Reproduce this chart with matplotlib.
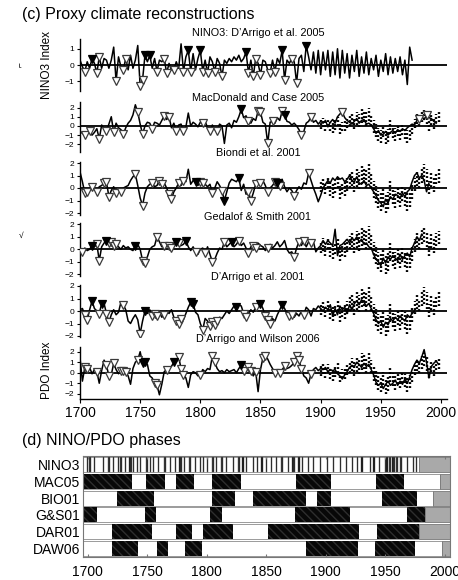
import matplotlib.pyplot as plt
import numpy as np

plt.rcParams['font.family'] = ['Liberation Sans', 'DejaVu Sans']
plt.rcParams['hatch.linewidth'] = 1.0

# ---- proxy series, every 2nd year from 1700 ----
nino3_vals = [0.3, -0.1, -0.4, 0.2, -0.2, 0.4, 0.1, -0.5, 0.5, -0.2,
              0.4, 0.3, -0.2, 0.3, 1.1, -1.0, 0.5, -0.1, -0.3, 0.4,
              -0.3, 0.6, -0.2, 0.3, 1.2, -1.3, -0.9, 0.6, 0.2, 0.6,
              -0.2, 0.4, -0.4, 0.3, 0.2, 0.4, -0.5, 0.1, -0.3, -0.3,
              0.2, -0.2, 1.3, -0.4, 0.5, 0.9, -0.4, 0.7, -0.3, 0.4,
              0.9, -0.4, 0.3, -0.5, 0.5, 0.2, -0.4, 0.4, 0.1, -0.7,
              0.3, 0.1, 0.4, 0.2, 0.5, 0.3, 0.6, 0.2, 0.4, 0.8,
              -0.5, 0.3, -0.7, 0.4, 0.1, -0.6, 0.3, 0.2, -0.3, -0.5,
              0.3, -0.4, 0.4, 0.1, 0.9, -0.9, 0.3, 0.1, 0.4, 0.2,
              -1.1, 0.4, 0.6, -0.4, 1.2, 0.5, -0.3, 0.8, -0.5, 0.9,
              -0.6, 0.8, -0.3, 0.9, -0.7, 0.8, -0.6, 1.0, -0.8, 0.9,
              -0.5, 0.7, -0.8, 0.6, -0.4, 0.9, -0.7, 0.5, -0.5, 0.8,
              -0.6, 0.4, -0.3, 0.6, -0.7, 0.3, -0.4, 0.7, -0.6, 0.5,
              -0.5, 0.4, -0.4, 0.5, -0.6, 0.3, -1.2, 1.1, 0.3]
mac05_vals = [-0.6, -0.8, -1.0, -0.9, -0.5, -1.0, -0.7, -0.3, -1.4, 0.1,
              -0.3, -0.5, 0.2, 1.0, -0.7, 0.3, -0.2, -0.4, -0.9, -0.2,
              0.3, 0.6, 1.2, 2.3, 1.5, 0.2, -0.9, 0.0, 0.4, 0.3,
              -0.3, 0.4, 0.3, 0.1, 0.6, 1.1, 0.7, 1.0, -0.2, 0.3,
              -0.5, 0.1, 0.2, -0.6, -0.1, 1.4, 0.0, 0.4, 0.2, -0.1,
              0.4, 0.3, 0.5, -0.2, -0.5, 0.1, -0.4, -0.5, 0.2, 0.0,
              -1.9, 0.1, 0.3, -0.2, 0.6, 0.4, 1.0, 1.8, 0.9, 1.1,
              0.5, 0.3, 0.8, 0.6, 1.6, 1.5, 0.4, 0.2, -1.9, 0.4,
              0.5, 0.3, 0.9, 0.6, 1.6, 1.2, 0.5, 0.4, 0.1, 0.3,
              0.0, -0.4, -1.0, -0.6, 0.3, 0.5, 1.0, 0.4, 0.6, 0.2,
              0.5, 0.3, 0.6, -0.1, 0.4, 0.7, 0.3, 1.0, 1.3, 1.5,
              0.9, 0.6, 0.4, 0.2, 0.5, 0.8, 0.3, 0.6, 0.7, 0.2,
              0.3, 0.1, -0.3, -0.8, -0.5, -1.0, -0.9, -0.6, -1.0, -0.7,
              -0.5, -0.8, -0.4, -0.6, -0.3, -0.5, -0.2, 0.0, 0.2, 0.1,
              0.6, 0.8, 1.0, 0.7, 1.2, 0.9, 0.8, 0.5, 0.3]
bio01_vals = [1.3, 0.5, -0.4, -0.3, 0.0, 0.1, -0.1, -0.3, 0.1, 0.2,
              0.4, 0.5, -0.7, -0.2, 0.1, -0.4, -0.2, -0.3, 0.0, 0.1,
              0.2, 0.6, 0.9, 1.1, 0.2, -0.8, -1.4, -0.4, 0.1, 0.3,
              0.4, 0.1, 0.2, 0.6, 0.3, 0.4, 0.0, -0.5, -0.9, -0.3,
              0.0, 0.4, 0.2, 0.6, 0.5, 1.5, 0.3, 0.6, 0.5, 0.2,
              0.5, 0.4, 0.3, 0.1, 0.3, -0.4, 0.0, 0.5, 0.2, -0.2,
              -1.0, -0.3, 0.4, 0.7, 0.6, 0.5, 0.8, -0.2, 0.3, -0.5,
              -0.3, -1.0, -0.4, 0.3, 0.5, 0.4, 0.6, 0.2, -0.3, 0.0,
              0.2, 0.5, 0.4, 0.2, 0.7, 0.1, -0.3, 0.0, -0.2, -0.6,
              -0.2, 0.1, -0.1, 0.4, 0.3, 1.2, 0.6, 0.0, -0.5, -1.1,
              -0.6, 0.0, 0.3, 0.6, 0.4, 0.8, 0.6, 0.9, 0.7, 0.8,
              0.5, 0.7, 1.0, 0.6, 0.5, 0.9, 0.4, 0.3, 0.6, 0.2,
              0.3, 0.0, -0.3, -0.6, -1.0, -1.2, -1.5, -0.9, -1.2, -0.7,
              -0.9, -0.5, -0.6, -0.8, -0.4, -0.7, -0.3, -0.1, 0.5, 1.0,
              1.2, 0.8, 1.0, 0.6, -0.3, 0.4]
gs01_vals = [-0.1, -0.2, 0.1, -0.1, 0.0, 0.3, 0.2, 0.4, -0.9, 0.2,
             0.5, 0.7, 0.5, 0.6, 0.3, 0.4, 0.2, 0.0, 0.3, 0.1,
             0.2, 0.0, -0.1, 0.3, 0.4, 0.0, -0.9, -1.1, -0.6, 0.0,
             0.2, 0.3, 1.0, 0.6, 0.2, 0.3, 0.4, 0.3, 0.1, 0.5,
             0.6, 0.5, 0.3, 0.4, 0.7, 0.2, -0.1, 0.2, -0.2, -0.4,
             0.0, 0.1, -0.3, 0.2, -0.4, -1.0, -0.8, -0.3, 0.1, 0.0,
             0.6, 0.2, 0.4, 0.6, 0.2, 0.4, 0.7, 0.3, 0.5, 0.1,
             -0.3, 0.2, 0.3, 0.1, 0.5, 0.3, 0.2, -0.1, 0.1, 0.4,
             0.1, 0.3, 0.6, 0.2, 0.4, 0.7, 0.0, -0.3, -0.2, -0.6,
             0.1, 0.6, 0.3, 0.7, 0.2, 0.6, 0.5, 0.6, -0.2, 0.1,
             0.3, 0.7, 0.4, 0.7, 0.5, 0.3, 1.6, -0.5, 0.3, 0.4,
             0.6, 0.8, 0.5, 0.9, 0.7, 1.0, 0.6, 0.8, 0.4, 0.5,
             0.2, 0.1, -0.4, -0.8, -1.0, -1.3, -0.7, -1.1, -0.6, -0.8,
             -0.5, -0.7, -0.9, -0.4, -0.8, -0.5, -0.3, -0.6, 0.1, 0.5,
             1.0, 0.7, 1.2]
dar01_vals = [0.1, 0.2, -0.3, -0.7, 0.1, 0.8, 0.2, 0.0, -0.2, 0.6,
              0.6, -0.2, -0.9, -0.3, 0.1, -0.3, -0.1, 0.7, 0.5, 0.1,
              -0.8, -1.0, -0.6, -0.3, -0.7, -1.8, -0.8, 0.0, -0.2, 0.1,
              -0.4, -0.2, -0.4, -0.1, -0.5, -0.3, 0.0, -0.2, 0.1, -0.5,
              -0.8, -1.0, -0.6, -0.7, -0.2, 0.3, 0.7, 0.6, -0.1, -0.3,
              -1.0, -1.5, -0.6, -0.8, -1.2, -0.9, -1.1, -0.8, -0.5, -0.6,
              -0.3, 0.0, -0.2, 0.1, 0.4, 0.3, 0.5, 0.4, -0.2, -0.5,
              -0.2, 0.1, -0.1, 0.3, 0.5, 0.6, 0.2, -0.4, -0.7, -1.0,
              -0.6, -0.8, -0.3, 0.1, 0.5, 0.2, -0.2, -0.4, -0.3, -0.5,
              -0.2, -0.4, 0.0, -0.3, 0.3, 0.1, -0.4, 0.2, 0.1, 0.4,
              0.2, 0.0, 0.3, 0.1, 0.5, -0.4, 0.2, -0.3, 0.4, 0.1,
              0.3, -0.2, 0.5, 0.1, 0.6, 0.8, 0.5, 0.9, 0.7, 0.4,
              0.6, 0.2, -0.2, -0.7, -1.0, -0.8, -1.3, -0.9, -1.1, -0.6,
              -0.8, -0.5, -0.7, -0.4, -0.6, -0.8, -0.3, -0.5, -0.2, 0.0]
daw06_vals = [1.4, -0.8, 0.5, 0.4, 0.5, -0.1, 0.3, 0.1, -1.0, 0.2,
              1.2, 0.7, -0.3, -0.2, 0.9, 0.3, -0.1, 0.2, 0.2, 0.1,
              -0.3, -1.1, 0.4, 1.0, 1.2, 2.0, 0.9, 1.0, 0.8, -0.3,
              -0.5, -1.0, -1.2, -2.1, -1.1, 0.1, 0.3, 0.5, 0.6, 1.0,
              1.0, 1.5, 0.4, -0.2, -0.5, -1.4, -0.2, 0.1, 0.0, -0.3,
              -0.2, 0.3, 0.1, 0.4, 0.3, 1.6, 1.0, 0.4, 0.1, 0.2,
              0.0, 0.3, 0.1, 0.2, 0.3, 0.0, 0.4, 0.7, 0.2, 0.4,
              0.5, 0.2, -0.3, 0.1, -1.8, 0.3, 1.4, 1.6, 1.3, 0.8,
              0.4, 0.0, 0.1, 0.0, 0.3, 0.6, 0.4, 0.5, 0.7, 1.0,
              1.6, 1.2, 0.4, -0.3, -0.5, -1.0, -0.1, 0.3, 0.5, 0.2,
              0.4, 0.3, 0.5, 0.1, 0.3, 0.2, 0.3, -0.1, -0.3, -0.6,
              -0.2, 0.1, 0.5, 0.7, 0.6, 1.0, 0.8, 0.5, 0.9, 0.6,
              0.8, 0.3, -0.2, -0.9, -1.2, -1.0, -1.5, -1.1, -0.8, -1.2,
              -1.0, -0.7, -1.2, -0.8, -1.1, -0.6, -1.0, -0.4, 0.3, 0.8,
              1.2, 0.9, 1.5, 2.2, 1.0, -0.5, 0.6, 0.9, 1.1, 0.8]

# extreme years marked with triangles (open / filled)
nino3_open = [1704, 1714, 1716, 1730, 1736, 1738, 1750, 1752, 1764, 1770, 1772, 1778,
              1786, 1792, 1802, 1806, 1812, 1818, 1840, 1844, 1846, 1850, 1858,
              1862, 1870, 1876, 1880]
nino3_fill = [1710, 1754, 1758, 1790, 1800, 1838, 1868, 1888]
mac05_open = [1704, 1708, 1716, 1722, 1728, 1736, 1748, 1752, 1760, 1770, 1774, 1780,
              1786, 1802, 1808, 1814, 1840, 1848, 1850, 1856, 1860, 1868, 1884,
              1892, 1918, 1982, 1988]
mac05_fill = [1834, 1870]
bio01_open = [1704, 1706, 1710, 1714, 1720, 1722, 1724, 1730, 1734, 1746, 1752, 1760,
              1766, 1768, 1774, 1776, 1782, 1786, 1800, 1802, 1810, 1818, 1840,
              1842, 1846, 1850, 1856, 1862, 1866, 1878, 1890]
bio01_fill = [1796, 1820, 1832, 1864]
gs01_open = [1702, 1714, 1716, 1724, 1726, 1728, 1730, 1752, 1754, 1764, 1770, 1774,
             1776, 1782, 1796, 1804, 1810, 1820, 1832, 1840, 1844, 1846, 1856,
             1878, 1882, 1886, 1892]
gs01_fill = [1710, 1722, 1746, 1780, 1788, 1826]
dar01_open = [1704, 1706, 1716, 1722, 1724, 1736, 1750, 1760, 1762, 1764, 1770, 1780,
              1782, 1784, 1802, 1808, 1810, 1812, 1814, 1836, 1838, 1846, 1854,
              1856, 1858, 1874, 1876, 1886]
dar01_fill = [1710, 1718, 1754, 1792, 1794, 1830, 1850, 1868]
daw06_open = [1704, 1706, 1714, 1722, 1724, 1728, 1734, 1736, 1738, 1748, 1762, 1764,
              1772, 1782, 1784, 1786, 1800, 1810, 1812, 1836, 1840, 1842, 1846,
              1852, 1854, 1862, 1866, 1870, 1878, 1880, 1882, 1884, 1892]
daw06_fill = [1752, 1754, 1778, 1834]

# instrumental PDO (range of values within each 2-year step)
pdo_years = list(range(1900, 1999, 2))
pdo_hi = [0.6, 0.9, 0.5, 0.8, 0.4, 0.3, 0.6, 1.0, 0.2, 0.4,
          0.5, 0.8, 1.1, 1.4, 1.0, 1.5, 1.3, 1.9, 1.7, 1.5,
          1.9, 1.2, 0.6, 0.2, -0.2, -0.4, 0.1, -0.5, -0.3, 0.6,
          0.0, -0.2, 0.1, -0.3, 0.2, -0.1, -0.4, -0.2, 0.3, 0.8,
          1.3, 1.0, 1.6, 1.9, 1.5, 0.6, 1.2, 0.8, 1.3, 1.5]
pdo_lo = [-0.3, -0.1, -0.5, 0.0, -0.6, -0.8, -0.4, 0.0, -0.9, -0.5,
          -0.6, -0.2, 0.0, 0.2, -0.3, 0.1, -0.1, 0.3, 0.4, 0.0,
          0.5, 0.0, -0.8, -1.2, -1.6, -1.8, -1.2, -2.0, -1.7, -0.9,
          -1.3, -1.6, -1.1, -1.5, -1.0, -1.4, -1.8, -1.5, -0.9, -0.2,
          0.2, 0.0, 0.4, 0.6, 0.2, -0.5, 0.1, -0.3, 0.3, 0.4]

# ---- phase panel ----
phase_rows = ['NINO3', 'MAC05', 'BIO01', 'G&S01', 'DAR01', 'DAW06']
phase_start = 1696
phase_stop = 2004
phase_end = [1978.5, 1996, 1990, 1983, 1978, 1998]
nino3_black_years = [1699, 1701, 1702, 1705, 1713, 1717, 1718, 1721, 1725, 1727, 1728,
                     1731, 1735, 1736, 1738, 1741, 1744, 1749, 1750, 1752, 1755, 1759,
                     1764, 1765, 1769, 1773, 1777, 1778, 1781, 1785, 1786, 1790, 1794,
                     1797, 1800, 1804, 1805, 1808, 1812, 1813, 1816, 1822, 1826, 1827,
                     1830, 1833, 1839, 1842, 1846, 1850, 1854, 1858, 1862, 1863, 1868,
                     1872, 1873, 1877, 1880, 1885, 1889, 1895, 1901, 1906, 1912, 1917,
                     1922, 1926, 1930, 1937, 1940, 1945, 1950, 1951, 1953, 1954, 1956,
                     1957, 1959, 1960, 1962, 1963, 1968, 1973, 1976]
mac05_black = [(1696, 1737.5), (1748.7, 1764.7), (1774, 1789), (1804.5, 1829),
               (1875, 1904), (1942.6, 1965.5)]
bio01_black = [(1724.6, 1755.5), (1804.5, 1823.5), (1839, 1883), (1893, 1904),
               (1947, 1977)]
gs01_black = [(1696, 1708), (1748.5, 1757), (1803, 1813), (1874, 1920.7), (1968, 1983)]
dar01_black = [(1720.4, 1754.3), (1774.5, 1787.6), (1797, 1822), (1851.5, 1928),
               (1943, 1978)]
daw06_black = [(1720.4, 1742.3), (1758.5, 1767.5), (1782, 1796), (1883, 1927),
               (1941.7, 1975.3)]

W, H = 458, 580
fig = plt.figure(figsize=(W / 100, H / 100), dpi=100)


def rect(x0, top, x1, bot):
    return [x0 / W, 1 - bot / H, (x1 - x0) / W, (bot - top) / H]


panels = [
    ("NINO3: D\u2019Arrigo et al. 2005", nino3_vals, nino3_open, nino3_fill, 39, 91, (-1.6, 1.6), [-1, 0, 1], False, 33),
    ("MacDonald and Case 2005", mac05_vals, mac05_open, mac05_fill, 102, 152, (-2.83, 2.6), [-2, -1, 0, 1, 2], True, 98),
    ("Biondi et al. 2001", bio01_vals, bio01_open, bio01_fill, 162, 215, (-2.16, 2.08), [-2, -1, 0, 1, 2], True, 153),
    ("Gedalof & Smith 2001", gs01_vals, gs01_open, gs01_fill, 223, 276, (-2.13, 2.1), [-2, -1, 0, 1, 2], True, 217),
    ("D\u2019Arrigo et al. 2001", dar01_vals, dar01_open, dar01_fill, 285, 337, (-2.08, 2.08), [-2, -1, 0, 1, 2], True, 277),
    ("D\u2019Arrigo and Wilson 2006", daw06_vals, daw06_open, daw06_fill, 347, 399.3, (-2.53, 2.45), [-2, -1, 0, 1, 2], True, 339),
]

for i, (name, vals, t_open, t_fill, top, bot, ylim, yt, dots, ty) in enumerate(panels):
    ax = fig.add_axes(rect(80, top, 447, bot))
    years = np.arange(1700, 1700 + 2 * len(vals), 2)
    lookup = dict(zip(years.tolist(), vals))
    if dots:
        ax.vlines(pdo_years, pdo_lo, pdo_hi, colors='k', linewidth=1.7,
                  linestyles=(0, (0.8, 0.9)), zorder=2)
    ax.plot(years, vals, color='k', lw=1.1, zorder=3)
    ax.plot(t_open, [lookup[y] for y in t_open], 'v', ms=5.5, mfc='white',
            mec='#3a3a3a', mew=0.9, zorder=4, ls='none')
    ax.plot(t_fill, [lookup[y] for y in t_fill], 'v', ms=5.5, mfc='black',
            mec='black', mew=0.9, zorder=4, ls='none')
    ax.axhline(0, color='k', lw=1.3, zorder=1)
    ax.set_xlim(1700, 2005)
    ax.set_ylim(*ylim)
    ax.set_yticks(yt)
    ax.tick_params(axis='y', labelsize=6, length=2.5, width=0.8, pad=1.5)
    for s in ['top', 'right']:
        ax.spines[s].set_visible(False)
    ax.spines['left'].set_linewidth(1.0)
    if i < 5:
        ax.spines['bottom'].set_visible(False)
        ax.set_xticks([])
    else:
        ax.set_xticks(range(1700, 2001, 50))
        ax.tick_params(axis='x', labelsize=10, length=3, width=0.8, pad=2)
        ax.spines['bottom'].set_linewidth(1.0)
    ax.patch.set_alpha(0)
    fig.text(258 / W, 1 - ty / H, name, ha='center', va='center', fontsize=7.8)

fig.text(22 / W, 1 - 15 / H, "(c) Proxy climate reconstructions", fontsize=11.5,
         ha='left', va='center')
fig.text(47 / W, 1 - 65 / H, "NINO3 Index", rotation=90, fontsize=8.5,
         ha='center', va='center')
fig.text(47 / W, 1 - 370 / H, "PDO Index", rotation=90, fontsize=8.5,
         ha='center', va='center')
fig.text(21 / W, 1 - 65 / H, "\u2310", rotation=90, fontsize=6, ha='center', va='center')
fig.text(21 / W, 1 - 236 / H, "\u221a", fontsize=6, ha='center', va='center')
fig.text(22 / W, 1 - 440 / H, "(d) NINO/PDO phases", fontsize=11.5,
         ha='left', va='center')

# phase panel
axp = fig.add_axes(rect(83, 456, 449.5, 557))
black_segments = [None, mac05_black, bio01_black, gs01_black, dar01_black, daw06_black]
bh = 0.9
for r, label in enumerate(phase_rows):
    end = phase_end[r]
    axp.barh(r, end - phase_start, left=phase_start, height=bh, color='white',
             edgecolor='#8a8a8a', linewidth=0.6)
    if r == 0:
        axp.barh([r] * len(nino3_black_years), [1] * len(nino3_black_years),
                 left=nino3_black_years, height=bh, color='#111111',
                 edgecolor='#555555', linewidth=0.3)
    else:
        for a, b in black_segments[r]:
            axp.barh(r, b - a, left=a, height=bh, color='#080808',
                     edgecolor='#2e2e2e', linewidth=0, hatch='\\\\\\\\')
    axp.barh(r, phase_stop - end, left=end, height=bh, color='#a9a9a9',
             edgecolor='#777777', linewidth=0.6)

axp.set_xlim(phase_start, phase_stop)
axp.set_ylim(5.5, -0.5)
axp.set_yticks(range(len(phase_rows)))
axp.set_yticklabels(phase_rows)
axp.tick_params(axis='y', length=0, labelsize=10, pad=2)
axp.set_xticks(range(1700, 2001, 50))
axp.tick_params(axis='x', labelsize=10, direction='in', top=True, length=2,
                color='#777777', pad=6)
for s in axp.spines.values():
    s.set_color('#777777')
    s.set_linewidth(0.8)

fig.savefig('out.png', dpi=100)
